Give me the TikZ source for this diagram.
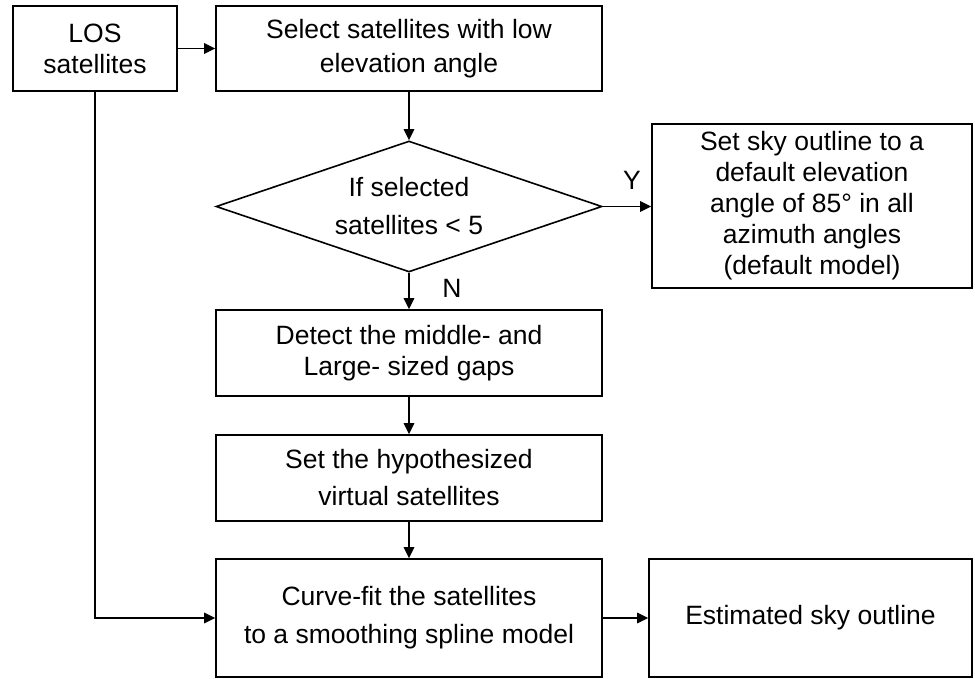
\documentclass[tikz,border=0pt]{standalone}
\usepackage{fontspec}
\setmainfont{Liberation Sans}
\usetikzlibrary{arrows.meta,shapes.geometric}

\begin{document}
\begin{tikzpicture}[x=1pt, y=-1pt, line width=1.6pt, >={Triangle[length=11pt,width=10.5pt]},
		box/.style = {draw, rectangle, align=center, inner sep=0pt, font=\fontsize{26.5}{31}\selectfont},
		decision/.style = {draw, diamond, aspect=2.95, align=center, inner sep=0pt, font=\fontsize{26.5}{31}\selectfont},
		lbl/.style = {inner sep=0pt, font=\fontsize{26.5}{31}\selectfont}]
		\useasboundingbox (0,0) rectangle (975,678);
		\node[box, minimum width=164pt, minimum height=85pt] (los) at (95,48.5) {LOS\\satellites};
		\node[box, minimum width=386pt, minimum height=85pt] (sel) at (409,48.5) {Select satellites with low\\[3pt]elevation angle};
		\node[decision, minimum width=386pt, minimum height=131pt] (dec) at (409,206.5) {If selected\\[7pt]satellites < 5};
		\node[box, minimum width=320pt, minimum height=164pt] (sky) at (812,206) {Set sky outline to a\\default elevation\\angle of 85° in all\\azimuth angles\\(default model)};
		\node[box, minimum width=386pt, minimum height=86pt] (det) at (409,353) {Detect the middle- and\\Large- sized gaps};
		\node[box, minimum width=386pt, minimum height=86pt] (hyp) at (409,478) {Set the hypothesized\\[6pt]virtual satellites};
		\node[box, minimum width=386pt, minimum height=118pt] (fit) at (409,618) {Curve-fit the satellites\\[7pt]to a smoothing spline model};
		\node[box, minimum width=323pt, minimum height=118pt] (est) at (810.5,618) {Estimated sky outline};
		\node[lbl] (yes) at (632,180) {Y};
		\node[lbl] (no) at (452,288) {N};
		\draw[->] (los) -- (sel);
		\draw[->] (sel) -- (dec);
		\draw[->] (dec.east) -- (sky.west |- dec.east);
		\draw[->] (dec) -- (det);
		\draw[->] (det) -- (hyp);
		\draw[->] (hyp) -- (fit);
		\draw[->] (fit) -- (est);
		\draw[->] (los.south) |- (fit.west);
	\end{tikzpicture}
\end{document}
